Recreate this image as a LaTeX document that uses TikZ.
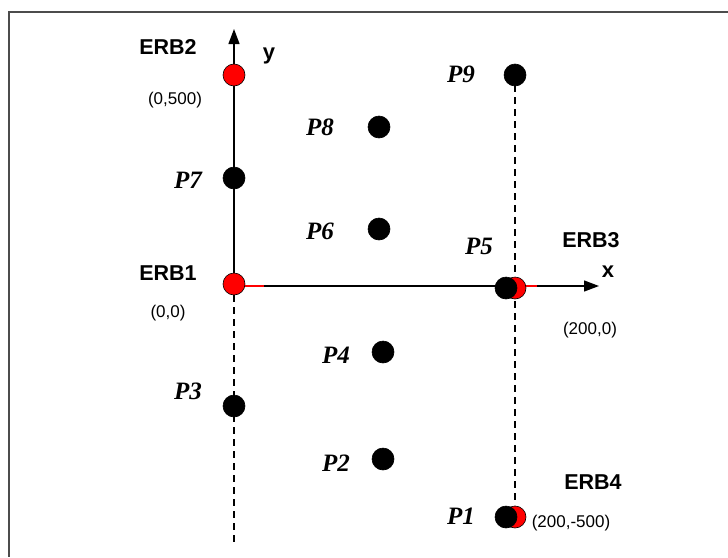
\documentclass[tikz,border=0pt]{standalone}
\usepackage{fontspec}
\setmainfont{Liberation Serif}
\setsansfont{Liberation Sans}
\usetikzlibrary{arrows.meta}
\tikzset{
  axis/.style={line width=1.3pt, -{Triangle[length=15pt,width=11pt]}},
  guide/.style={line width=1.2pt, dash pattern=on 7pt off 5pt},
  blackdot/.style={circle, minimum size=22pt, inner sep=0pt, fill=black, draw=black, line width=0.6pt},
  reddot/.style={circle, minimum size=22pt, inner sep=0pt, fill=red, draw=black, line width=0.6pt},
  erblabel/.style={font=\sffamily\bfseries\fontsize{21.5}{24}\selectfont},
  axlabel/.style={font=\sffamily\bfseries\fontsize{22}{24}\selectfont},
  ptlabel/.style={font=\rmfamily\bfseries\itshape\fontsize{25}{28}\selectfont},
  coordlabel/.style={font=\sffamily\fontsize{17}{20}\selectfont},
  sector/.style={red, line width=1.6pt}
}
\begin{document}
\begin{tikzpicture}[x=1pt,y=-1pt]
\useasboundingbox (0,0) rectangle (728,557);
% frame (top and left edges)
\draw[line width=2pt, black!70] (728,11.5) -- (9,11.5) -- (9,557);

% guide lines through the base stations
\coordinate (ybot) at (234,545);
\coordinate (xbot) at (515,505);
\coordinate (xtop) at (515,85);
\draw[guide] (234,295) -- (ybot);
\draw[guide] (xtop) -- (xbot);

% axes
\coordinate (O) at (234,286);
\coordinate (ytip) at (234,29);
\coordinate (xtip) at (599,286);
\draw[axis] (O) -- (ytip);
\draw[axis] (O) -- (xtip);

% sector marks
\draw[sector] (244,286) -- (264,286);
\draw[sector] (525,286) -- (537,286);

% base stations and points
\node[reddot]   (erb2) at (234,75)  {};
\node[reddot]   (erb1) at (234,284) {};
\node[reddot]   (erb3) at (515,288) {};
\node[reddot]   (erb4) at (515,517) {};
\node[blackdot] (p7) at (234,178) {};
\node[blackdot] (p3) at (234,406) {};
\node[blackdot] (p8) at (379,127) {};
\node[blackdot] (p6) at (379,229) {};
\node[blackdot] (p4) at (383,352) {};
\node[blackdot] (p2) at (383,459) {};
\node[blackdot] (p9) at (515,75)  {};
\node[blackdot] (p5) at (506,288) {};
\node[blackdot] (p1) at (506,517) {};

% labels
\node[erblabel] (lerb2) at (168,47)  {ERB2};
\node[erblabel] (lerb1) at (168,273) {ERB1};
\node[erblabel] (lerb3) at (591,240) {ERB3};
\node[erblabel] (lerb4) at (593,482) {ERB4};
\node[axlabel]  (ly) at (269,56)  {y};
\node[axlabel]  (lx) at (608,272) {x};
\node[coordlabel] (c2) at (175,100) {(0,500)};
\node[coordlabel] (c1) at (168,313) {(0,0)};
\node[coordlabel] (c3) at (590,330) {(200,0)};
\node[coordlabel] (c4) at (571,523) {(200,-500)};
\node[ptlabel] (l8) at (320,127) {P8};
\node[ptlabel] (l7) at (188,180) {P7};
\node[ptlabel] (l6) at (320,231) {P6};
\node[ptlabel] (l5) at (479,246) {P5};
\node[ptlabel] (l4) at (336,355) {P4};
\node[ptlabel] (l3) at (188,391) {P3};
\node[ptlabel] (l2) at (336,463) {P2};
\node[ptlabel] (l9) at (461,74)  {P9};
\node[ptlabel] (l1) at (461,516) {P1};
\end{tikzpicture}
\end{document}
